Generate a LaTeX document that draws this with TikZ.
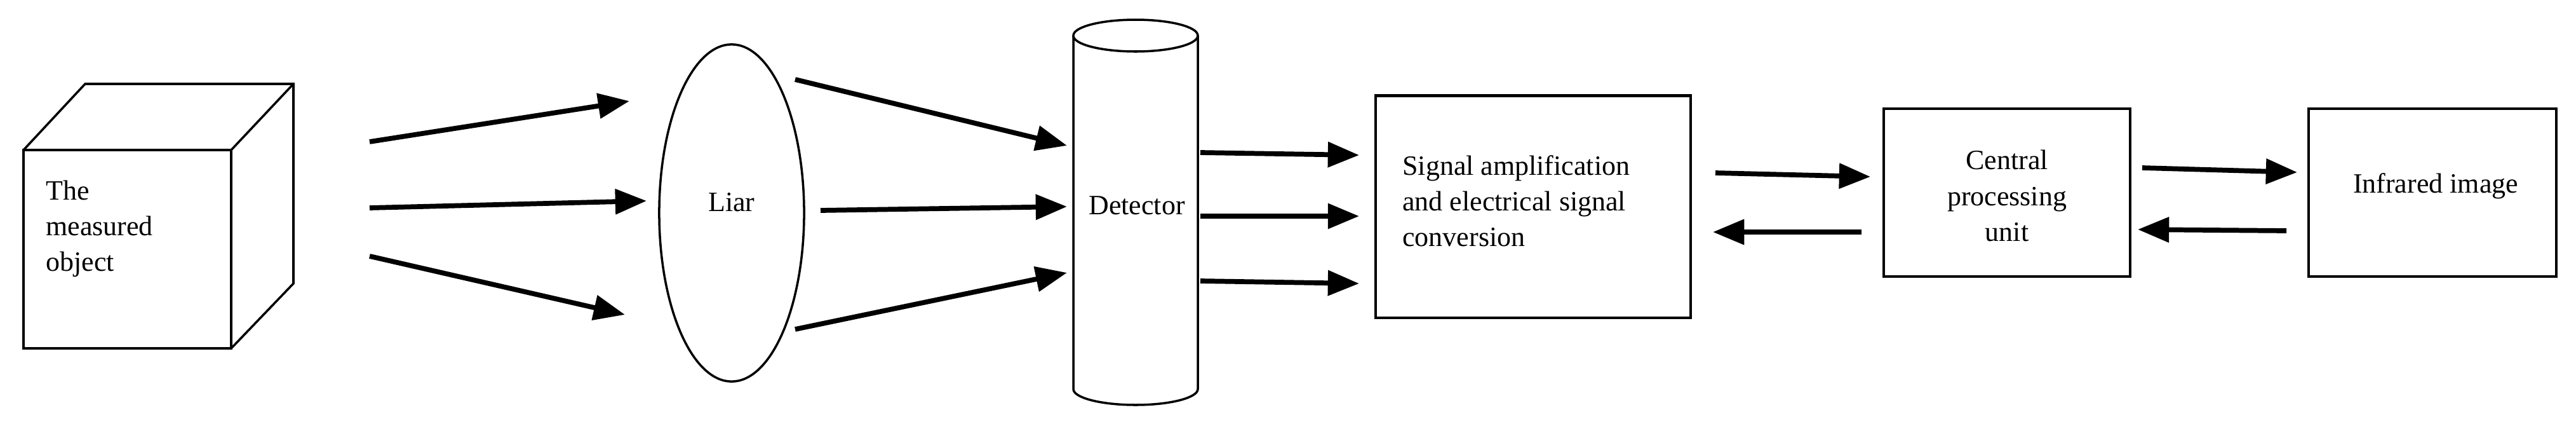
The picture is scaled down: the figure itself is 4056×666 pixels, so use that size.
\documentclass[tikz,border=0pt]{standalone}
\usepackage{fontspec}
\setmainfont{Liberation Serif}
\usetikzlibrary{arrows.meta,shapes.geometric}
\begin{document}
\begin{tikzpicture}[x=0.01cm,y=-0.01cm,
  edge/.style={line width=1pt},
  arr/.style={line width=2.2pt,-{Triangle[length=14pt,width=11pt]}},
  box/.style={draw,line width=1.2pt,inner sep=0pt},
  lbl/.style={font=\fontsize{12.5}{16}\selectfont,align=center}]
\useasboundingbox (0,0) rectangle (4056,666);
% cube
\draw[edge] (37,236) rectangle (364,548);
\draw[edge] (37,236) -- (134,132) -- (462,132) -- (462,446) -- (364,548);
\draw[edge] (364,236) -- (462,132);
\node[lbl,align=left,anchor=west] (obj) at (60,360) {The\\measured\\object};
% lens
\node[draw,ellipse,edge,inner sep=0pt,minimum width=2.28cm,minimum height=5.3cm] (lens) at (1152,335) {};
\node[lbl] (liar) at (1152,318) {Liar};
% cylinder
\draw[edge] (1690,56) -- (1690,612) arc[start angle=180,end angle=360,x radius=98,y radius=-25] -- (1886,56);
\draw[edge] (1788,56) ellipse[x radius=98,y radius=25];
\node[lbl] (det) at (1790,323) {Detector};
% boxes
\node[box,minimum width=4.96cm,minimum height=3.49cm] (sig) at (2414,325) {};
\node[lbl,align=left,anchor=north west] (sigt) at (2196,232) {Signal amplification\\and electrical signal\\conversion};
\node[box,minimum width=3.88cm,minimum height=2.64cm] (cpu) at (3160,303) {};
\node[lbl] (cput) at (3160,308) {Central\\processing\\unit};
\node[box,minimum width=3.9cm,minimum height=2.64cm] (ir) at (3830,303) {};
\node[lbl] (irt) at (3835,293) {Infrared image};
% arrow coordinates
\foreach \n/\x/\y in {a1/582/223,b1/991/159,a2/582/327,b2/1018/316,a3/582/403,b3/984/495,
 c1/1252/125,d1/1680/229,c2/1292/331,d2/1680/325,c3/1252/518,d3/1680/429,
 e1/1890/240,f1/2140/244,e2/1890/340,f2/2140/340,e3/1890/442,f3/2140/446,
 g1/2701/272,h1/2945/278,g2/2931/365,h2/2697/365,
 i1/3373/264,j1/3617/271,i2/3600/363,j2/3366/361}
 {\coordinate (\n) at (\x,\y);}
\foreach \s/\t in {a1/b1,a2/b2,a3/b3,c1/d1,c2/d2,c3/d3,e1/f1,e2/f2,e3/f3,g1/h1,g2/h2,i1/j1,i2/j2}
 {\draw[arr] (\s) -- (\t);}
\end{tikzpicture}
\end{document}
